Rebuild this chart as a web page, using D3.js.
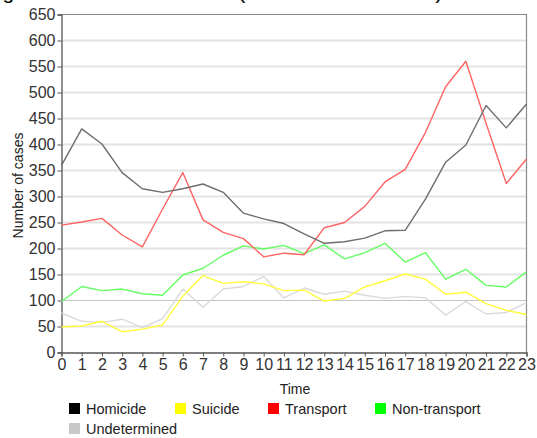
<!DOCTYPE html>
<html><head><meta charset="utf-8">
<script src="https://cdn.jsdelivr.net/npm/d3@7"></script>
<style>
html,body{margin:0;padding:0;background:#fff;}
svg{display:block;font-family:"Liberation Sans",Arial,sans-serif;}
</style></head>
<body>
<svg id="chart" width="537" height="438"></svg>
<script>
const hours = d3.range(0, 24);
const hourLabels = hours.map(String);
const yTicks = d3.range(0, 651, 50);
const seriesNames = ["Homicide", "Suicide", "Transport", "Non-transport", "Undetermined"];
const homicide     = [360,430,401,346,315,308,315,324,308,268,257,248,228,210,213,220,234,235,295,366,399,475,432,478];
const suicide      = [49,51,60,40,45,53,108,148,133,136,132,119,120,99,104,126,138,151,141,112,116,94,81,73];
const transport    = [245,251,258,226,203,276,346,255,231,219,184,191,188,240,250,281,328,352,423,511,560,441,325,372];
const nonTransport = [98,127,119,122,113,110,149,162,187,205,199,206,190,207,180,192,210,174,192,141,160,129,126,155];
const undetermined = [76,60,58,64,48,65,122,87,122,127,146,105,124,112,118,110,104,108,105,72,98,74,77,96];
const lineColors   = ["#6e6e6e", "#ffff3c", "#ff6464", "#64ff64", "#dadada"];
const legendColors = ["#000000", "#ffff00", "#ff0000", "#00ff00", "#c8c8c8"];
const titleText = "Figure 2. Number of cases (all manners of death)";

const svg = d3.select("#chart");
const margin = {left: 61.5, right: 10.5, top: 14.5, bottom: 85.5};
const W = 537, H = 438;
const x = d3.scaleLinear().domain([0, 23]).range([margin.left, W - margin.right]);
const y = d3.scaleLinear().domain([0, 650]).range([H - margin.bottom, margin.top]);

// title (mostly cut off above, as in the reference)
svg.append("text").attr("x", -15).attr("y", -1)
  .attr("font-size", 21).attr("fill", "#000").text(titleText);

// grid
svg.append("g").selectAll("line").data(yTicks.filter(v => v > 0 && v < 650)).join("line")
  .attr("x1", margin.left).attr("x2", W - margin.right)
  .attr("y1", d => y(d)).attr("y2", d => y(d))
  .attr("stroke", d => d === 100 ? "#c4c4c4" : "#e3e3e3")
  .attr("stroke-width", d => d === 100 ? 1 : 2);

// frame top/right
svg.append("path")
  .attr("d", `M${margin.left},${y(650)}H${W - margin.right}V${y(0)}`)
  .attr("fill", "none").attr("stroke", "#8a8a8a").attr("stroke-width", 1.2);

// y axis
const yAxis = d3.axisLeft(y).tickValues(yTicks).tickSize(4).tickPadding(2);
const gy = svg.append("g").attr("transform", `translate(${margin.left},0)`).call(yAxis);
gy.select(".domain").attr("stroke", "#555").attr("stroke-width", 1.3);
gy.selectAll(".tick line").attr("stroke", "#555");
gy.selectAll(".tick text").attr("font-size", 16).attr("fill", "#333")
  .attr("font-family", "'Liberation Sans',Arial,sans-serif");

// x axis
const xAxis = d3.axisBottom(x).tickValues(hours).tickFormat((d, i) => hourLabels[i]).tickSize(4).tickPadding(2);
const gx = svg.append("g").attr("transform", `translate(0,${y(0)})`).call(xAxis);
gx.select(".domain").attr("stroke", "#555").attr("stroke-width", 1.3);
gx.selectAll(".tick line").attr("stroke", "#555");
gx.selectAll(".tick text").attr("font-size", 16).attr("fill", "#333")
  .attr("font-family", "'Liberation Sans',Arial,sans-serif");

// axis titles
svg.append("text").attr("x", (margin.left + W - margin.right) / 2 + 1).attr("y", 394)
  .attr("text-anchor", "middle").attr("font-size", 14).attr("fill", "#222").text("Time");
svg.append("text").attr("transform", `translate(23,${(y(0) + y(650)) / 2 + 2}) rotate(-90)`)
  .attr("text-anchor", "middle").attr("font-size", 14).attr("fill", "#222").text("Number of cases");

// lines
const data = [homicide, suicide, transport, nonTransport, undetermined];
const line = d3.line().x((d, i) => x(hours[i])).y(d => y(d));
const drawOrder = [4, 1, 3, 2, 0];
svg.append("g").selectAll("path").data(drawOrder).join("path")
  .attr("d", k => line(data[k]))
  .attr("fill", "none").attr("stroke", k => lineColors[k]).attr("stroke-width", 1.4)
  .attr("stroke-linejoin", "round");

// legend
const legPos = [[69, 403], [175, 403], [268, 403], [375, 403], [69, 423]];
const lg = svg.append("g").selectAll("g").data(seriesNames).join("g")
  .attr("transform", (d, i) => `translate(${legPos[i][0]},${legPos[i][1]})`);
lg.append("rect").attr("width", 11).attr("height", 11).attr("fill", (d, i) => legendColors[i]);
lg.append("text").attr("x", 17).attr("y", 10.5).attr("font-size", 14.5).attr("fill", "#222").text(d => d);
</script>
</body></html>
